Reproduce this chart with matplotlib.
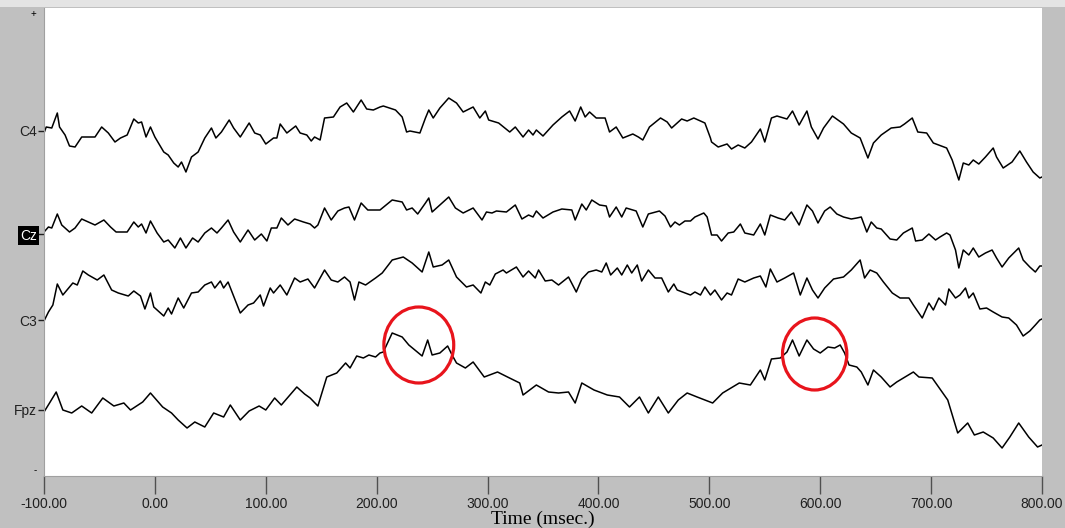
import numpy as np
import matplotlib
matplotlib.use('Agg')
import matplotlib.pyplot as plt
from matplotlib.patches import Ellipse

plt.rcParams['font.family'] = ['Liberation Sans', 'DejaVu Sans']

c4 = [(-100,-2),(-98,4),(-93,3),(-88,18),(-86,4),(-81,-4),(-77,-15),(-72,-16),(-66,-6),(-54,-6),
      (-48,4),(-42,-2),(-36,-11),(-31,-7),(-25,-4),(-19,12),(-15,8),(-12,9),(-8,-6),(-4,4),(0,-6),
      (8,-21),(12,-24),(17,-32),(21,-36),(24,-31),(28,-41),(33,-26),(39,-21),(45,-7),(51,3),(55,-7),
      (60,-1),(67,11),(71,3),(77,-6),(85,8),(90,-2),(95,-4),(100,-13),(107,-7),(110,-7),(113,7),
      (119,-2),(127,5),(131,-2),(137,-4),(141,-10),(144,-6),(149,-9),(153,13),(161,14),(167,24),
      (173,28),(179,19),(186,31),(191,22),(197,21),(203,24),(206,25),(217,21),(223,14),(227,-1),
      (230,0),(239,-2),(244,13),(247,21),(251,13),(257,23),(265,33),(272,28),(278,19),(287,24),
      (293,13),(298,20),(301,11),(310,8),(320,-1),(325,4),(332,-6),(337,1),(341,-4),(344,1),(350,-5),
      (359,6),(367,14),(374,20),(379,10),(384,24),(388,14),(392,19),(398,13),(406,13),(410,-1),
      (416,4),(422,-7),(431,-3),(436,-6),(440,-9),(446,4),(456,13),(462,9),(466,3),(475,12),(480,10),
      (486,13),(492,10),(496,8),(501,-7),(502,-11),(508,-16),(516,-13),(520,-18),(526,-14),(532,-17),
      (538,-11),(546,2),(550,-11),(556,13),(561,15),(570,12),(575,20),(581,6),(588,20),(592,4),
      (598,-8),(603,3),(611,15),(621,7),(628,-2),(636,-7),(643,-27),(648,-12),(655,-4),(664,3),
      (672,4),(676,7),(683,13),(688,-1),(696,-2),(702,-12),(714,-17),(719,-29),(725,-49),(729,-32),
      (734,-34),(738,-29),(743,-33),(749,-26),(756,-17),(759,-26),(765,-37),(773,-31),(780,-20),
      (786,-31),(792,-41),(798,-47),(800,-46)]

cz = [(-100,2),(-96,7),(-93,6),(-88,20),(-84,9),(-77,2),(-72,6),(-66,15),(-60,12),(-54,9),(-46,14),
      (-40,7),(-35,2),(-25,2),(-19,12),(-15,7),(-12,10),(-8,1),(-4,13),(2,1),(8,-8),(12,-6),(18,-14),
      (23,-4),(28,-14),(34,-4),(39,-8),(45,1),(51,6),(56,1),(60,6),(66,14),(71,2),(77,-8),(84,4),
      (90,-6),(96,0),(101,-7),(105,6),(110,6),(114,16),(120,9),(126,15),(134,12),(140,10),(144,6),
      (147,9),(153,26),(159,14),(165,23),(171,26),(175,27),(180,14),(186,31),(192,24),(203,24),
      (214,34),(223,32),(227,24),(232,26),(237,20),(244,31),(247,36),(250,22),(257,29),(265,37),
      (271,26),(278,21),(287,26),(295,14),(299,22),(304,21),(308,23),(317,22),(325,29),(331,15),
      (337,19),(341,17),(344,23),(350,16),(359,22),(367,25),(376,24),(379,14),(385,30),(389,24),
      (394,34),(401,29),(407,28),(410,17),(416,27),(421,17),(425,26),(434,23),(440,7),(445,20),
      (455,23),(460,18),(465,7),(469,12),(473,9),(478,13),(483,13),(487,17),(495,21),(498,17),
      (502,-1),(507,-1),(511,-7),(517,1),(522,2),(528,10),(532,1),(540,-1),(546,10),(550,-1),(555,19),
      (562,16),(568,14),(574,22),(581,9),(588,29),(593,23),(598,11),(604,23),(609,27),(615,20),
      (621,17),(628,15),(633,16),(637,17),(642,2),(646,12),(651,6),(655,5),(663,-5),(669,-6),(675,1),
      (683,6),(686,-7),(692,-6),(698,0),(704,-6),(708,-3),(714,1),(717,-1),(722,-16),(725,-34),
      (729,-16),(734,-21),(738,-14),(743,-23),(749,-19),(755,-16),(759,-24),(764,-33),(770,-24),
      (779,-14),(783,-26),(789,-33),(794,-38),(798,-32),(800,-32)]

c3 = [(-100,-1),(-96,8),(-92,15),(-88,36),(-83,25),(-74,37),(-70,35),(-65,49),(-60,45),(-52,40),
      (-46,45),(-39,30),(-33,27),(-24,24),(-19,29),(-13,24),(-9,11),(-4,27),(-1,13),(8,4),(12,12),
      (15,6),(21,22),(26,12),(33,27),(39,28),(45,35),(51,38),(54,32),(59,39),(62,32),(66,38),(77,7),
      (84,15),(89,17),(95,25),(98,14),(104,32),(107,27),(113,35),(119,25),(126,42),(131,38),(138,41),
      (144,32),(153,50),(159,40),(165,38),(171,43),(176,38),(180,20),(184,38),(190,35),(199,42),
      (205,47),(214,60),(224,63),(232,57),(241,48),(247,68),(251,53),(259,55),(265,60),(272,43),
      (281,33),(287,35),(294,27),(298,38),(302,35),(307,46),(314,50),(317,47),(326,53),(332,43),
      (337,49),(343,42),(346,50),(352,39),(358,40),(364,35),(373,43),(380,28),(385,41),(391,48),
      (398,50),(403,48),(407,57),(411,45),(417,52),(421,45),(426,55),(430,47),(435,55),(439,39),
      (445,50),(451,42),(457,42),(463,28),(468,36),(471,30),(483,25),(487,28),(492,25),(496,33),
      (501,25),(505,30),(511,20),(516,27),(520,25),(526,41),(532,38),(540,42),(546,44),(551,33),
      (555,51),(561,38),(568,42),(576,47),(582,25),(588,42),(593,30),(598,22),(604,32),(612,41),
      (621,43),(628,50),(636,60),(640,42),(645,50),(651,47),(657,38),(665,27),(672,22),(680,22),
      (684,15),(692,2),(698,17),(702,10),(707,22),(713,15),(716,31),(722,22),(726,25),(731,32),
      (734,22),(738,27),(744,11),(750,12),(756,8),(764,3),(770,2),(777,-5),(783,-16),(789,-11),
      (794,-5),(798,0),(800,1)]

fpz = [(-100,-2),(-95,7),(-89,18),(-83,0),(-75,-3),(-66,4),(-57,-3),(-47,12),(-37,4),(-28,7),(-22,0),
       (-11,8),(-4,17),(7,3),(15,-3),(21,-10),(29,-18),(36,-12),(45,-17),(53,-3),(62,-7),(68,5),
       (77,-10),(85,-1),(94,4),(100,0),(108,12),(114,5),(128,23),(135,16),(140,12),(147,4),(155,33),
       (164,37),(172,47),(176,42),(182,54),(188,52),(193,55),(199,53),(203,57),(206,58),(214,77),
       (223,73),(229,65),(241,54),(246,70),(250,55),(257,57),(264,64),(268,55),(272,47),(280,42),
       (287,48),(297,33),(309,38),(318,33),(329,27),(332,15),(344,25),(355,18),(364,17),(373,18),
       (379,7),(385,27),(396,20),(408,15),(419,13),(428,3),(437,13),(445,-3),(454,13),(463,-3),
       (472,10),(480,17),(489,13),(503,7),(512,17),(521,23),(527,27),(537,25),(546,40),(550,30),
       (556,51),(564,52),(570,58),(575,70),(581,54),(588,70),(594,61),(600,57),(607,63),(613,62),
       (618,65),(622,57),(626,45),(633,43),(637,38),(643,25),(648,40),(655,33),(663,23),(669,28),
       (684,38),(689,33),(701,32),(715,10),(724,-23),(733,-13),(739,-25),(747,-22),(756,-28),
       (764,-38),(771,-27),(779,-13),(788,-27),(796,-37),(800,-35)]

channels = ['C4', 'Cz', 'C3', 'Fpz']
traces = [c4, cz, c3, fpz]
baselines = [345, 242, 156, 66]

# highlighted segments on Fpz: centre time, centre amplitude, width (ms), height
circle_t = [238, 595]
circle_v = [65, 56]
circle_w = [63, 58]
circle_h = [76, 72]

xticks = np.arange(-100, 801, 100)

fig = plt.figure(figsize=(10.65, 5.28), dpi=100, facecolor='#c0c0c0')
fig.patches.append(plt.Rectangle((0, 0.986), 1, 0.014, transform=fig.transFigure,
                                 facecolor='#e4e4e4', edgecolor='none', zorder=0))
ax = fig.add_axes([44/1065, 1-476/528, 998/1065, 468/528])
ax.set_facecolor('white')

for tr, base in zip(traces, baselines):
    t, v = np.array(tr).T
    ax.plot(t, base + v, color='black', lw=1.1)

for ct, cv, w, h in zip(circle_t, circle_v, circle_w, circle_h):
    ax.add_patch(Ellipse((ct, baselines[3] + cv), w, h, fill=False,
                         edgecolor='#e8141c', lw=2.3, zorder=3))

ax.set_xlim(-100, 800)
ax.set_ylim(0, 468)
ax.set_xticks(xticks)
ax.set_xticklabels([f'{x:.2f}' for x in xticks], fontsize=10, color='#202020')
ax.set_yticks(baselines)
ax.set_yticklabels(channels, fontsize=10, color='#202020')
ax.tick_params(axis='x', length=13, width=1, color='#505050', pad=2)
ax.tick_params(axis='y', length=4, width=1, color='#202020', pad=1)

cz_lab = ax.get_yticklabels()[1]
cz_lab.set_color('white')
cz_lab.set_bbox(dict(facecolor='black', edgecolor='none', pad=1.5))

for s in ['top', 'right']:
    ax.spines[s].set_visible(False)
for s in ['left', 'bottom']:
    ax.spines[s].set_color('#a0a0a0')

ax.set_xlabel('Time (msec.)', fontsize=14, family='Liberation Serif', labelpad=0)

fig.text(33/1065, 1-14/528, '+', fontsize=7, ha='center', va='center')
fig.text(35/1065, 1-470/528, '-', fontsize=7, ha='center', va='center')

fig.savefig('out.png', dpi=100, facecolor=fig.get_facecolor())
